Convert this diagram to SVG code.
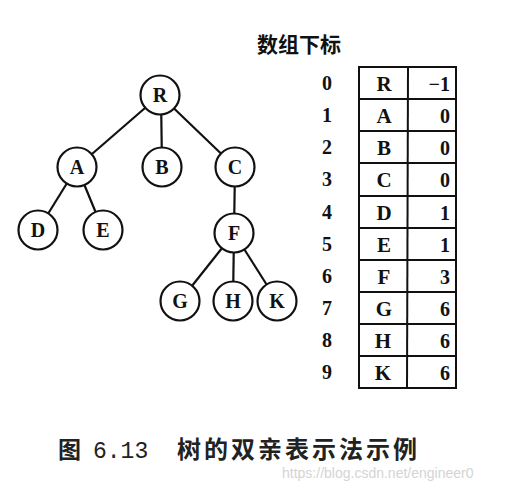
<svg xmlns="http://www.w3.org/2000/svg" width="508" height="493" viewBox="0 0 508 493">
<style>
.n circle{fill:#fff;stroke:#111;stroke-width:2.2}
.n text,.t{font-family:"Liberation Serif","DejaVu Serif",serif;font-weight:bold;fill:#111;text-anchor:middle}
.n text{font-size:20px}
.t{font-size:21px}
.idx{font-family:"Liberation Serif",serif;font-weight:bold;font-size:20px;fill:#111;text-anchor:middle}
.num{font-family:"Liberation Serif",serif;font-weight:bold;font-size:20px;fill:#111;text-anchor:end}
#edges line{stroke:#111;stroke-width:2.2}
#table line,#table rect{stroke:#111;stroke-width:2;fill:none}
</style>
<rect width="508" height="493" fill="#fff"/>
<g id="edges">
<line x1="160" y1="95" x2="77" y2="167"/>
<line x1="161" y1="95" x2="162" y2="167"/>
<line x1="160" y1="95" x2="235" y2="167"/>
<line x1="77" y1="167" x2="38" y2="230"/>
<line x1="77" y1="167" x2="103" y2="230"/>
<line x1="235" y1="167" x2="234" y2="233"/>
<line x1="234" y1="233" x2="180" y2="301"/>
<line x1="234" y1="233" x2="233" y2="301"/>
<line x1="234" y1="233" x2="277" y2="301"/>
</g>
<g id="R" class="n"><circle cx="160" cy="95" r="19.5"/><text x="160" y="102">R</text></g>
<g id="A" class="n"><circle cx="77" cy="167" r="19.5"/><text x="77" y="174">A</text></g>
<g id="B" class="n"><circle cx="162" cy="167" r="19.5"/><text x="162" y="174">B</text></g>
<g id="C" class="n"><circle cx="235" cy="167" r="19.5"/><text x="235" y="174">C</text></g>
<g id="D" class="n"><circle cx="38" cy="230" r="19.5"/><text x="38" y="237">D</text></g>
<g id="E" class="n"><circle cx="103" cy="230" r="19.5"/><text x="103" y="237">E</text></g>
<g id="F" class="n"><circle cx="234" cy="233" r="19.5"/><text x="234" y="240">F</text></g>
<g id="G" class="n"><circle cx="180" cy="301" r="19.5"/><text x="180" y="308">G</text></g>
<g id="H" class="n"><circle cx="233" cy="301" r="19.5"/><text x="233" y="308">H</text></g>
<g id="K" class="n"><circle cx="277" cy="301" r="19.5"/><text x="277" y="308">K</text></g>
<text x="299" y="52" font-family="'Noto Sans CJK SC',sans-serif" font-weight="bold" font-size="21" text-anchor="middle" fill="#111">数组下标</text>
<g id="table">
<rect x="359" y="67" width="97" height="321"/>
<line x1="408" y1="67" x2="407" y2="388"/>
<line x1="359" y1="99" x2="456" y2="99"/>
<line x1="359" y1="131" x2="456" y2="131"/>
<line x1="359" y1="163" x2="456" y2="163"/>
<line x1="359" y1="196" x2="456" y2="196"/>
<line x1="359" y1="228" x2="456" y2="228"/>
<line x1="359" y1="260" x2="456" y2="260"/>
<line x1="359" y1="292" x2="456" y2="292"/>
<line x1="359" y1="324" x2="456" y2="324"/>
<line x1="359" y1="356" x2="456" y2="356"/>
</g>
<g id="indices">
<text class="idx" x="327" y="90">0</text>
<text class="idx" x="327" y="122">1</text>
<text class="idx" x="327" y="154">2</text>
<text class="idx" x="327" y="186">3</text>
<text class="idx" x="327" y="219">4</text>
<text class="idx" x="327" y="251">5</text>
<text class="idx" x="327" y="283">6</text>
<text class="idx" x="327" y="315">7</text>
<text class="idx" x="327" y="347">8</text>
<text class="idx" x="327" y="379">9</text>
</g>
<g id="data">
<text class="t" x="384" y="91">R</text><text class="num" x="450" y="91">−1</text>
<text class="t" x="384" y="123">A</text><text class="num" x="450" y="123">0</text>
<text class="t" x="384" y="155">B</text><text class="num" x="450" y="155">0</text>
<text class="t" x="384" y="187">C</text><text class="num" x="450" y="187">0</text>
<text class="t" x="384" y="220">D</text><text class="num" x="450" y="220">1</text>
<text class="t" x="384" y="252">E</text><text class="num" x="450" y="252">1</text>
<text class="t" x="384" y="284">F</text><text class="num" x="450" y="284">3</text>
<text class="t" x="384" y="316">G</text><text class="num" x="450" y="316">6</text>
<text class="t" x="383" y="348">H</text><text class="num" x="450" y="348">6</text>
<text class="t" x="383" y="380">K</text><text class="num" x="450" y="380">6</text>
</g>
<text x="58" y="458" font-family="'Noto Sans CJK SC',sans-serif" font-weight="bold" font-size="23" fill="#222">图</text>
<text x="93" y="458" font-family="'Liberation Mono',monospace" font-size="23" fill="#222">6.13</text>
<text x="177" y="458" font-family="'Noto Sans CJK SC',sans-serif" font-weight="bold" font-size="24" letter-spacing="3" fill="#222">树的双亲表示法示例</text>
<text x="282" y="478" font-family="'Liberation Sans',sans-serif" font-size="14" fill="#d4d4d4">https://blog.csdn.net/engineer0</text>
</svg>
